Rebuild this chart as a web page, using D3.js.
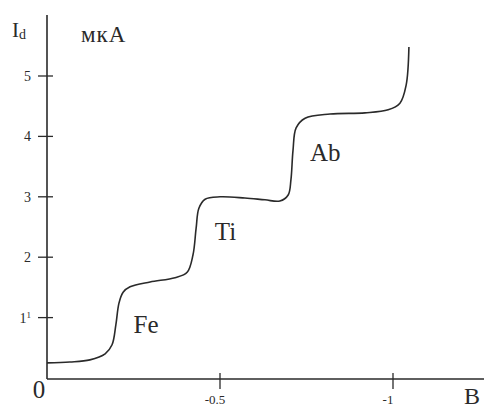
<!DOCTYPE html>
<html><head><meta charset="utf-8">
<script src="https://cdn.jsdelivr.net/npm/d3@7"></script>
<style>html,body{margin:0;padding:0;background:#fff}svg{display:block}</style>
</head><body>
<script>
const potential = [0,-0.066,-0.124,-0.168,-0.188,-0.199,-0.208,-0.220,-0.240,-0.298,-0.370,-0.405,-0.422,-0.431,-0.439,-0.457,-0.500,-0.572,-0.630,-0.673,-0.697,-0.705,-0.711,-0.720,-0.746,-0.818,-0.919,-0.986,-1.020,-1.038,-1.046];
const current = [0.25,0.265,0.30,0.40,0.55,0.88,1.24,1.42,1.51,1.59,1.66,1.75,2.04,2.48,2.81,2.96,3.00,2.98,2.95,2.93,3.03,3.28,3.77,4.14,4.30,4.37,4.39,4.44,4.55,4.85,5.48];
const yTicks = [1,2,3,4,5];
const xTicks = [-0.5,-1];
const xTickLabels = ["-0.5","-1"];
const waves = [{name:"Fe",x:-0.25,y:0.75},{name:"Ti",x:-0.485,y:2.28},{name:"Ab",x:-0.76,y:3.6}];

const W=485,H=412;
const svg=d3.select("body").append("svg").attr("width",W).attr("height",H);
const x=d3.scaleLinear().domain([0,-1]).range([47,393]);
const y=d3.scaleLinear().domain([0,5]).range([378,76]);
const ink="#2a2a2a";
const serif="'Liberation Serif','DejaVu Serif',serif";

// axes
svg.append("line").attr("x1",47).attr("x2",47).attr("y1",15).attr("y2",379).attr("stroke",ink).attr("stroke-width",1.6);
svg.append("line").attr("x1",47).attr("x2",484).attr("y1",379).attr("y2",379).attr("stroke",ink).attr("stroke-width",1.6);

// y ticks
svg.selectAll(".yt").data(yTicks).enter().append("line")
  .attr("x1",38).attr("x2",53).attr("y1",d=>y(d)).attr("y2",d=>y(d)).attr("stroke",ink).attr("stroke-width",1.3);
const yl=svg.selectAll(".yl").data(yTicks).enter().append("text")
  .attr("x",31).attr("y",d=>y(d)+5).attr("text-anchor","end")
  .attr("font-family",serif).attr("font-size",14).attr("fill",ink);
yl.append("tspan").text(d=>d);
yl.filter(d=>d===1).append("tspan").attr("font-size",9).attr("dy",-5).text("1");

// x ticks
svg.selectAll(".xt").data(xTicks).enter().append("line")
  .attr("x1",d=>x(d)).attr("x2",d=>x(d)).attr("y1",373).attr("y2",389).attr("stroke",ink).attr("stroke-width",1.3);
svg.selectAll(".xl").data(xTicks).enter().append("text")
  .attr("x",(d)=>x(d)-5).attr("y",404).attr("text-anchor","middle")
  .attr("font-family",serif).attr("font-size",13).attr("fill",ink)
  .text((d,i)=>xTickLabels[i]);

// origin, axis labels
svg.append("text").attr("x",39).attr("y",398).attr("text-anchor","middle").attr("font-family",serif).attr("font-size",25).attr("fill",ink).text("0");
svg.append("text").attr("x",472).attr("y",404).attr("text-anchor","middle").attr("font-family",serif).attr("font-size",24).attr("fill",ink).text("B");
const il=svg.append("text").attr("x",12).attr("y",37).attr("font-family",serif).attr("font-size",21).attr("fill",ink);
il.append("tspan").text("I");
il.append("tspan").attr("font-size",14).attr("dy",2).text("d");
svg.append("text").attr("x",81).attr("y",42).attr("font-family",serif).attr("font-size",23).attr("letter-spacing",1).attr("fill",ink).text("мкА");

// curve
const line=d3.line().x((d,i)=>x(potential[i])).y(d=>y(d)).curve(d3.curveCatmullRom.alpha(0.5));
svg.append("path").datum(current).attr("d",line).attr("fill","none").attr("stroke",ink).attr("stroke-width",1.6);

// wave labels
svg.selectAll(".wl").data(waves).enter().append("text")
  .attr("x",d=>x(d.x)).attr("y",d=>y(d.y)).attr("font-family",serif).attr("font-size",25).attr("fill",ink)
  .text(d=>d.name);
</script>
</body></html>
